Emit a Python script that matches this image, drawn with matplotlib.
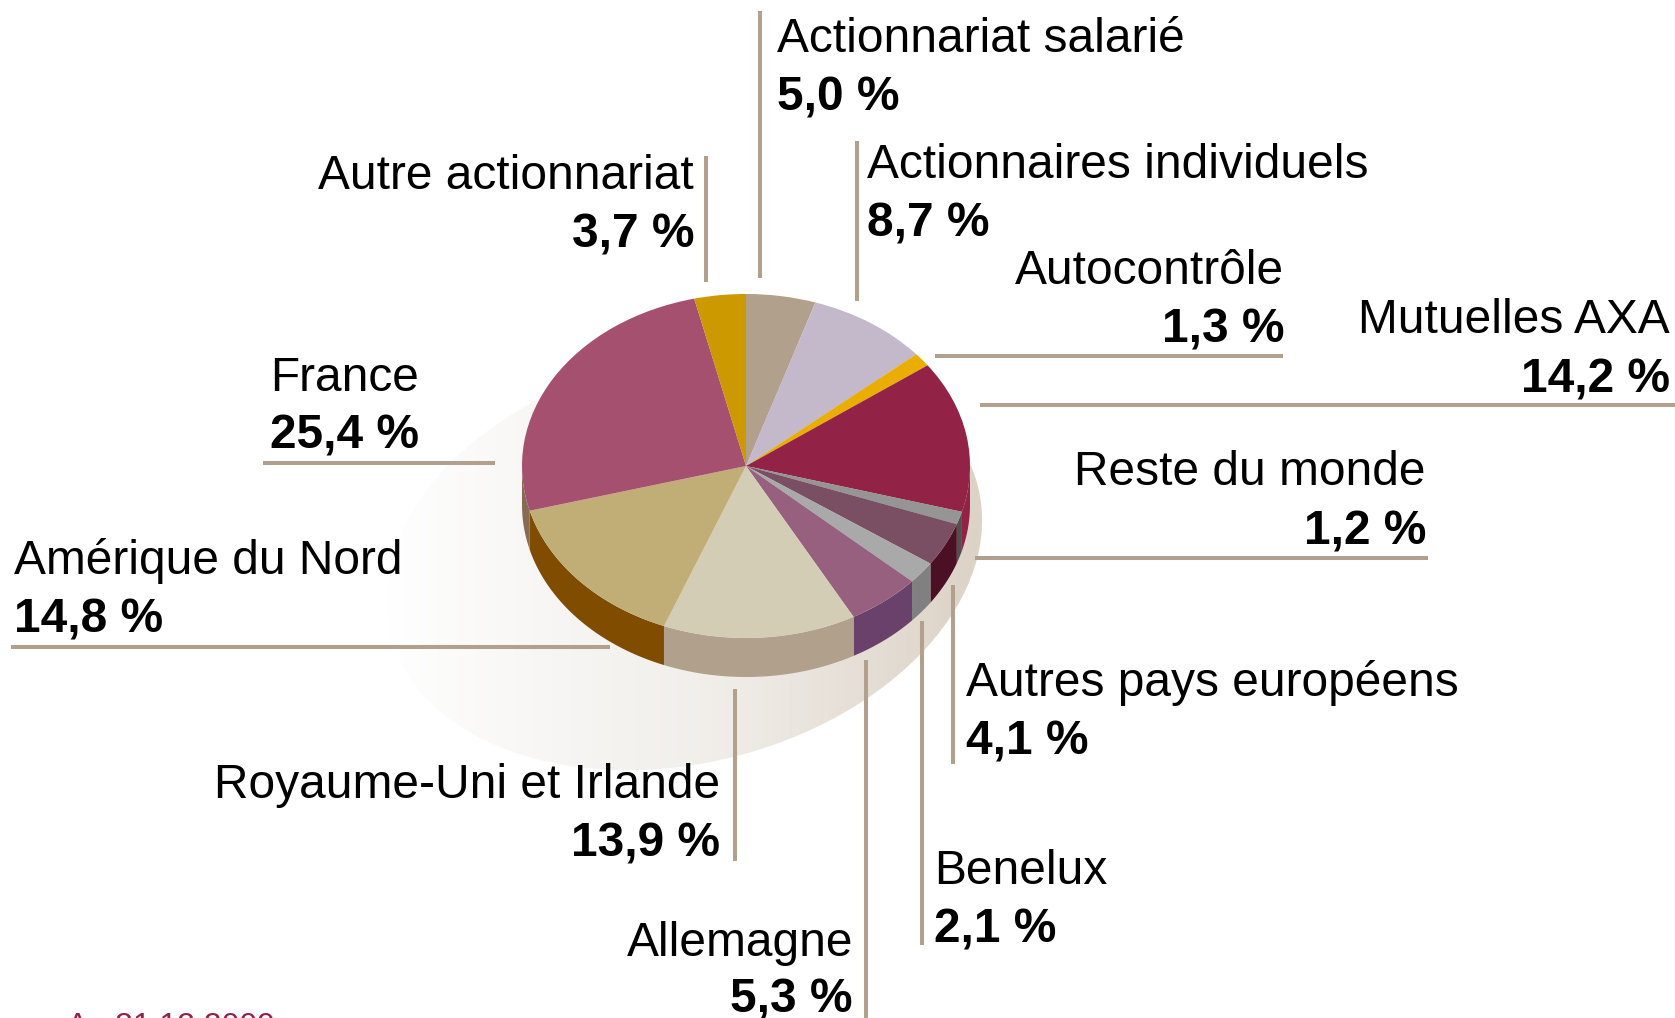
import matplotlib
matplotlib.use('Agg')
import matplotlib.pyplot as plt
import numpy as np
from matplotlib.colors import LinearSegmentedColormap
from matplotlib.patches import Ellipse
from matplotlib.transforms import Affine2D

plt.rcParams['font.family'] = ['Liberation Sans', 'DejaVu Sans']

# data, clockwise from 12 o'clock
names = ['Actionnariat salarié', 'Actionnaires individuels', 'Autocontrôle', 'Mutuelles AXA',
         'Reste du monde', 'Autres pays européens', 'Benelux', 'Allemagne',
         'Royaume-Uni et Irlande', 'Amérique du Nord', 'France', 'Autre actionnariat']
values = [5.0, 8.7, 1.3, 14.2, 1.2, 4.1, 2.1, 5.3, 13.9, 14.8, 25.4, 3.7]
top_colors = ['#b0a08c', '#c4b8cb', '#e9ae00', '#922346', '#959595', '#7a4e63',
              '#a9a9a9', '#96607e', '#d4cdb5', '#c0ae76', '#a5506f', '#cc9900']
side_colors = ['#b0a08c', '#c4b8cb', '#e9ae00', '#922346', '#505050', '#4b1024',
               '#808080', '#69416b', '#b0a08c', '#7f4c00', '#876c52', '#cc9900']

# label anchors: x, ha, baseline of name, baseline of value
label_pos = [(777, 'left', 52, 110), (867, 'left', 178, 236), (1284, 'right', 284, 343),
             (1670, 'right', 333, 392), (1426, 'right', 485, 544), (966, 'left', 696, 754),
             (934, 'left', 884, 943), (853, 'right', 956, 1013), (720, 'right', 798, 856),
             (14, 'left', 574, 632), (419, 'right', 391, 449), (694, 'right', 189, 247)]

# leader lines x0, x1, y0, y1
leaders = [(760, 760, 11, 278), (857, 857, 141, 301), (935, 1283, 356, 356), (980, 1675, 405, 405),
           (975, 1428, 558, 558), (953, 953, 585, 764), (922, 922, 621, 945), (866, 866, 660, 1018),
           (735, 735, 689, 861), (11, 610, 647, 647), (263, 495, 463, 463), (706, 706, 156, 282)]

cx, cy = 746, 466
rx, ry = 224, 172
depth = 39
line_color = '#b0a08c'

fig = plt.figure(figsize=(16.75, 10.18), dpi=100)
ax = fig.add_axes([0, 0, 1, 1])

# drop shadow under the pie, fades out to white on the left
cmap = LinearSegmentedColormap.from_list('shadow', [(0, '#ffffff'), (0.25, '#f8f7f5'), (0.55, '#f1eeea'), (1, '#dcd2c6')])
yy, xx = np.mgrid[0:1:200j, 0:1:200j]
im = ax.imshow(xx, extent=(380, 985, 780, 350), cmap=cmap, aspect='auto', zorder=0)
shadow = Ellipse((684, 560), 606, 406, angle=-14, transform=ax.transData, facecolor='none', edgecolor='none')
ax.add_patch(shadow)
im.set_clip_path(shadow)

# side wall of the disc, only the front half shows
edges = np.cumsum([0] + values) / sum(values) * 2 * np.pi
for i, col in enumerate(side_colors):
    a0 = max(edges[i], np.pi / 2)
    a1 = min(edges[i + 1], 3 * np.pi / 2)
    if a1 <= a0:
        continue
    t = np.linspace(a0, a1, 60)
    x = cx + rx * np.sin(t)
    y = cy - ry * np.cos(t)
    ax.fill(np.r_[x, x[::-1]], np.r_[y, y[::-1] + depth], color=col, lw=0, zorder=1)

# top of the disc
wedges, _ = ax.pie(values, colors=top_colors, startangle=90, counterclock=False, radius=1,
                   wedgeprops={'linewidth': 0})
tr = Affine2D().scale(rx, -ry).translate(cx, cy) + ax.transData
for w in wedges:
    w.set_transform(tr)
    w.set_zorder(2)

for x0, x1, y0, y1 in leaders:
    ax.plot([x0, x1], [y0, y1], color=line_color, lw=2.9, solid_capstyle='butt', zorder=3)

for name, val, (x, ha, y0, y1) in zip(names, values, label_pos):
    ax.text(x, y0, name, ha=ha, va='baseline', fontsize=34.5, color='black', zorder=4)
    ax.text(x, y1, f'{val:.1f} %'.replace('.', ','), ha=ha, va='baseline', fontsize=34.5,
            fontweight='bold', color='black', zorder=4)

ax.text(67, 1035, 'Au 31.12.2009', ha='left', va='baseline', fontsize=23, color='#922346', zorder=4)

ax.set_box_aspect(None)
ax.set_aspect('auto')
ax.set_xlim(0, 1675)
ax.set_ylim(1018, 0)
ax.axis('off')

fig.savefig('out.png', dpi=100)
